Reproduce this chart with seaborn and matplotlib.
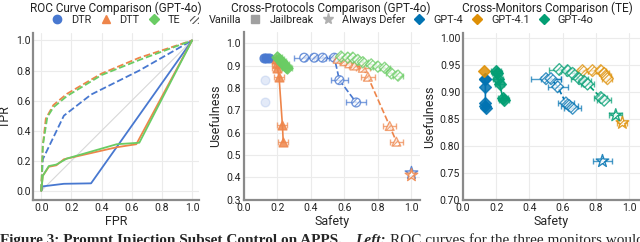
import matplotlib
matplotlib.use("Agg")
import matplotlib.pyplot as plt
import seaborn as sns
from matplotlib.lines import Line2D
from matplotlib.patches import Patch

# ---- ROC curves (GPT-4o), dashed = Vanilla, solid = Jailbreak ----
roc_dtr_van_fpr = [0.0, 0.01, 0.15, 0.33, 0.65, 1.0]
roc_dtr_van_tpr = [0.0, 0.21, 0.50, 0.64, 0.80, 1.0]
roc_dtt_van_fpr = [0.0, 0.01, 0.03, 0.08, 0.17, 0.40, 0.65, 1.0]
roc_dtt_van_tpr = [0.0, 0.30, 0.48, 0.57, 0.645, 0.78, 0.885, 1.0]
roc_te_van_fpr = [0.0, 0.01, 0.04, 0.08, 0.17, 0.40, 0.65, 1.0]
roc_te_van_tpr = [0.0, 0.30, 0.49, 0.555, 0.63, 0.77, 0.87, 1.0]
roc_dtr_jb_fpr = [0.0, 0.01, 0.15, 0.33, 1.0]
roc_dtr_jb_tpr = [0.0, 0.03, 0.047, 0.05, 1.0]
roc_dtt_jb_fpr = [0.0, 0.01, 0.05, 0.10, 0.15, 0.50, 0.63, 1.0]
roc_dtt_jb_tpr = [0.0, 0.10, 0.16, 0.17, 0.21, 0.29, 0.31, 1.0]
roc_te_jb_fpr = [0.0, 0.01, 0.05, 0.10, 0.17, 0.50, 0.65, 1.0]
roc_te_jb_tpr = [0.0, 0.10, 0.165, 0.175, 0.215, 0.31, 0.32, 1.0]

# ---- Cross-protocols (GPT-4o): safety, usefulness, safety error ----
dtr_jb_safety = [0.12, 0.13, 0.15]
dtr_jb_useful = [0.935, 0.935, 0.935]
dtr_jb_err = [0.01, 0.01, 0.01]
dtr_faint_safety = [0.125, 0.125]
dtr_faint_useful = [0.835, 0.735]
dtr_van_safety = [0.36, 0.42, 0.47, 0.54, 0.57, 0.67]
dtr_van_useful = [0.935, 0.935, 0.935, 0.935, 0.835, 0.735]
dtr_van_err = [0.06, 0.05, 0.04, 0.05, 0.05, 0.06]
dtt_jb_safety = [0.19, 0.20, 0.20, 0.21, 0.23, 0.235]
dtt_jb_useful = [0.93, 0.91, 0.89, 0.85, 0.635, 0.56]
dtt_jb_err = [0.02, 0.03, 0.03, 0.03, 0.03, 0.03]
dtt_van_safety = [0.56, 0.60, 0.63, 0.66, 0.71, 0.74, 0.87, 0.91]
dtt_van_useful = [0.93, 0.92, 0.91, 0.90, 0.89, 0.85, 0.63, 0.56]
dtt_van_err = [0.03, 0.03, 0.03, 0.03, 0.04, 0.04, 0.04, 0.04]
te_jb_safety = [0.20, 0.21, 0.22, 0.23, 0.24, 0.25, 0.26]
te_jb_useful = [0.94, 0.93, 0.92, 0.91, 0.905, 0.895, 0.89]
te_jb_err = [0.03, 0.03, 0.03, 0.03, 0.03, 0.03, 0.03]
te_van_safety = [0.58, 0.62, 0.65, 0.68, 0.71, 0.76, 0.80, 0.84, 0.88, 0.92]
te_van_useful = [0.94, 0.935, 0.935, 0.925, 0.915, 0.905, 0.895, 0.89, 0.865, 0.855]
te_van_err = [0.03, 0.03, 0.03, 0.03, 0.03, 0.03, 0.03, 0.03, 0.03, 0.03]
defer_safety = [1.0, 1.0]
defer_useful = [0.42, 0.41]

# ---- Cross-monitors (TE) ----
g4_jb_safety = [0.13, 0.13, 0.135, 0.135, 0.135, 0.14]
g4_jb_useful = [0.925, 0.925, 0.91, 0.88, 0.875, 0.87]
g41_jb_safety = [0.125]
g41_jb_useful = [0.94]
g4o_jb_safety = [0.20, 0.205, 0.21, 0.22, 0.24, 0.245]
g4o_jb_useful = [0.94, 0.935, 0.925, 0.915, 0.89, 0.885]
g4_van_safety = [0.50, 0.53, 0.57, 0.62, 0.64, 0.66]
g4_van_useful = [0.925, 0.925, 0.91, 0.88, 0.875, 0.87]
g4_van_err = [0.09, 0.06, 0.06, 0.05, 0.05, 0.05]
g41_van_safety = [0.72, 0.78, 0.83, 0.85, 0.86, 0.87]
g41_van_useful = [0.94, 0.94, 0.94, 0.935, 0.93, 0.925]
g41_van_err = [0.03, 0.03, 0.03, 0.03, 0.03, 0.03]
g4o_van_safety = [0.58, 0.63, 0.66, 0.70, 0.73, 0.75, 0.83, 0.85]
g4o_van_useful = [0.942, 0.94, 0.935, 0.925, 0.92, 0.915, 0.89, 0.885]
g4o_van_err = [0.06, 0.04, 0.04, 0.05, 0.04, 0.04, 0.04, 0.04]
monitor_defer_safety = [0.84, 0.96, 0.92]
monitor_defer_useful = [0.772, 0.843, 0.857]
monitor_defer_err = [0.06, 0.03, 0.04]

sns.set_theme(style="whitegrid")
plt.rcParams['font.family'] = ['Roboto', 'DejaVu Sans']
plt.rcParams['hatch.linewidth'] = 0.8

muted = sns.color_palette("muted")
cb = sns.color_palette("colorblind")
C_DTR, C_DTT, C_TE = muted[0], muted[1], muted[2]
C_G4, C_G41, C_G4O = cb[0], cb[1], cb[2]


def style_axes(ax):
    ax.grid(True, color="#ebebeb", linewidth=0.8)
    for side in ["top", "right"]:
        ax.spines[side].set_visible(False)
    for side in ["left", "bottom"]:
        ax.spines[side].set_color("#8a8a8a")
        ax.spines[side].set_linewidth(1.6)
    ax.tick_params(labelsize=7.5, length=0, pad=2, colors="#222222")
    ax.xaxis.label.set_size(9)
    ax.yaxis.label.set_size(9)


def draw_series(ax, x, y, color, marker, err=None, hatched=False, ls="-",
                line=True, size=40, alpha=0.85):
    if line and len(x) > 1:
        sns.lineplot(x=x, y=y, ax=ax, color=color, linestyle=ls, linewidth=1.2,
                     sort=False, estimator=None, zorder=2)
    if err is not None:
        ax.errorbar(x, y, xerr=err, fmt="none", ecolor=color, elinewidth=1,
                    capsize=2, capthick=1, alpha=0.7, zorder=2)
    if hatched:
        sns.scatterplot(x=x, y=y, ax=ax, marker=marker, s=size, color="white",
                        edgecolor=color, linewidth=1, hatch="//////",
                        alpha=alpha, zorder=3)
    else:
        sns.scatterplot(x=x, y=y, ax=ax, marker=marker, s=size, color=color,
                        edgecolor=color, linewidth=1, alpha=alpha, zorder=3)


fig = plt.figure(figsize=(6.4, 2.42), dpi=100)
ax1 = fig.add_axes([0.052, 0.174, 0.259, 0.69])
ax2 = fig.add_axes([0.381, 0.174, 0.275, 0.694])
ax3 = fig.add_axes([0.7234, 0.174, 0.2766, 0.69])

# ROC panel
ax1.plot([0, 1], [0, 1], color="#d8d8d8", linewidth=0.8, zorder=1)
for fpr, tpr, c in [(roc_dtr_van_fpr, roc_dtr_van_tpr, C_DTR),
                    (roc_dtt_van_fpr, roc_dtt_van_tpr, C_DTT),
                    (roc_te_van_fpr, roc_te_van_tpr, C_TE)]:
    sns.lineplot(x=fpr, y=tpr, ax=ax1, color=c, linestyle="--", linewidth=1.3,
                 sort=False, estimator=None)
for fpr, tpr, c in [(roc_dtr_jb_fpr, roc_dtr_jb_tpr, C_DTR),
                    (roc_dtt_jb_fpr, roc_dtt_jb_tpr, C_DTT),
                    (roc_te_jb_fpr, roc_te_jb_tpr, C_TE)]:
    sns.lineplot(x=fpr, y=tpr, ax=ax1, color=c, linestyle="-", linewidth=1.3,
                 sort=False, estimator=None)
ax1.set_xlim(-0.053, 1.046)
ax1.set_ylim(-0.06, 1.05)
ax1.set_xticks([0, 0.2, 0.4, 0.6, 0.8, 1.0])
ax1.set_yticks([0, 0.2, 0.4, 0.6, 0.8, 1.0])
ax1.set_xlabel("FPR", labelpad=2)
ax1.set_ylabel("TPR", labelpad=3)
style_axes(ax1)

# Cross-protocols panel
draw_series(ax2, dtr_faint_safety, dtr_faint_useful, C_DTR, "o", line=False, alpha=0.15)
draw_series(ax2, dtr_jb_safety, dtr_jb_useful, C_DTR, "o", err=dtr_jb_err)
draw_series(ax2, dtr_van_safety, dtr_van_useful, C_DTR, "o", err=dtr_van_err,
            hatched=True, ls="--", alpha=0.75)
draw_series(ax2, dtt_jb_safety, dtt_jb_useful, C_DTT, "^", err=dtt_jb_err)
draw_series(ax2, dtt_van_safety, dtt_van_useful, C_DTT, "^", err=dtt_van_err,
            hatched=True, ls="--", alpha=0.75)
draw_series(ax2, te_jb_safety, te_jb_useful, C_TE, "D", err=te_jb_err, size=32)
draw_series(ax2, te_van_safety, te_van_useful, C_TE, "D", err=te_van_err,
            hatched=True, ls="--", size=32, alpha=0.75)
for xs, ys, c in [([defer_safety[0]], [defer_useful[0]], C_DTR),
                  ([defer_safety[1]], [defer_useful[1]], C_DTT)]:
    draw_series(ax2, xs, ys, c, "*", hatched=True, line=False, size=90)
ax2.set_xlim(0, 1.05)
ax2.set_ylim(0.3, 1.05)
ax2.set_xticks([0, 0.2, 0.4, 0.6, 0.8, 1.0])
ax2.set_yticks([0.3, 0.4, 0.5, 0.6, 0.7, 0.8, 0.9, 1.0])
ax2.set_xlabel("Safety", labelpad=2)
ax2.set_ylabel("Usefulness", labelpad=3)
style_axes(ax2)

# Cross-monitors panel
draw_series(ax3, g4_jb_safety, g4_jb_useful, C_G4, "D", size=36)
draw_series(ax3, g41_jb_safety, g41_jb_useful, C_G41, "D", size=36)
draw_series(ax3, g4o_jb_safety, g4o_jb_useful, C_G4O, "D",
            err=[0.03] * len(g4o_jb_safety), size=36)
draw_series(ax3, g4_van_safety, g4_van_useful, C_G4, "D", err=g4_van_err,
            hatched=True, ls="--", size=36, alpha=0.75)
draw_series(ax3, g41_van_safety, g41_van_useful, C_G41, "D", err=g41_van_err,
            hatched=True, ls="--", size=36, alpha=0.75)
draw_series(ax3, g4o_van_safety, g4o_van_useful, C_G4O, "D", err=g4o_van_err,
            hatched=True, ls="--", size=36, alpha=0.75)
for i, c in enumerate([C_G4, C_G41, C_G4O]):
    draw_series(ax3, [monitor_defer_safety[i]], [monitor_defer_useful[i]], c, "*",
                err=[monitor_defer_err[i]], hatched=True, line=False, size=90)
ax3.set_xlim(0, 1.066)
ax3.set_ylim(0.70, 1.01)
ax3.set_xticks([0, 0.2, 0.4, 0.6, 0.8, 1.0])
ax3.set_yticks([0.70, 0.75, 0.80, 0.85, 0.90, 0.95, 1.00])
ax3.yaxis.set_major_formatter(matplotlib.ticker.FormatStrFormatter("%.2f"))
ax3.set_xlabel("Safety", labelpad=2)
ax3.set_ylabel("Usefulness", labelpad=3)
style_axes(ax3)

# panel titles
title_y = 1 - 8 / 242
fig.text(116 / 640, title_y, "ROC Curve Comparison (GPT-4o)", ha="center",
         va="center", fontsize=8.5, color="#222222")
fig.text(331 / 640, title_y, "Cross-Protocols Comparison (GPT-4o)", ha="center",
         va="center", fontsize=8.5, color="#222222")
fig.text(547 / 640, title_y, "Cross-Monitors Comparison (TE)", ha="center",
         va="center", fontsize=8.5, color="#222222")

# shared legend row
handles = [
    Line2D([], [], marker="o", color=C_DTR, linestyle="none", markersize=6),
    Line2D([], [], marker="^", color=C_DTT, linestyle="none", markersize=6),
    Line2D([], [], marker="D", color=C_TE, linestyle="none", markersize=5.5),
    Patch(facecolor="white", edgecolor="#555555", hatch="//////", linewidth=0),
    Line2D([], [], marker="s", color="#a0a0a0", linestyle="none", markersize=6),
    Line2D([], [], marker="*", color="#b0b0b0", linestyle="none", markersize=8),
    Line2D([], [], marker="D", color=C_G4, linestyle="none", markersize=5.5),
    Line2D([], [], marker="D", color=C_G41, linestyle="none", markersize=5.5),
    Line2D([], [], marker="D", color=C_G4O, linestyle="none", markersize=5.5),
]
labels = ["DTR", "DTT", "TE", "Vanilla", "Jailbreak", "Always Defer",
          "GPT-4", "GPT-4.1", "GPT-4o"]
fig.legend(handles, labels, loc="center", bbox_to_anchor=(0.505, 1 - 20 / 242),
           ncol=len(labels), frameon=False, fontsize=7.8, handlelength=0.8,
           handleheight=0.8, handletextpad=0.9, columnspacing=0.9)

# caption (cut off at the bottom edge, as in the source page)
cap_y = 1 - 234 / 242
fig.text(0.0, cap_y, "Figure 3: Prompt Injection Subset Control on APPS.",
         family=["Liberation Serif"], weight="bold", fontsize=11, va="top")
fig.text(355 / 640, cap_y, "Left:", family=["Liberation Serif"], weight="bold",
         style="italic", fontsize=11, va="top")
fig.text(390 / 640, cap_y, "ROC curves for the three monitors would",
         family=["Liberation Serif"], fontsize=11, va="top")

fig.savefig("out.png", dpi=100)
